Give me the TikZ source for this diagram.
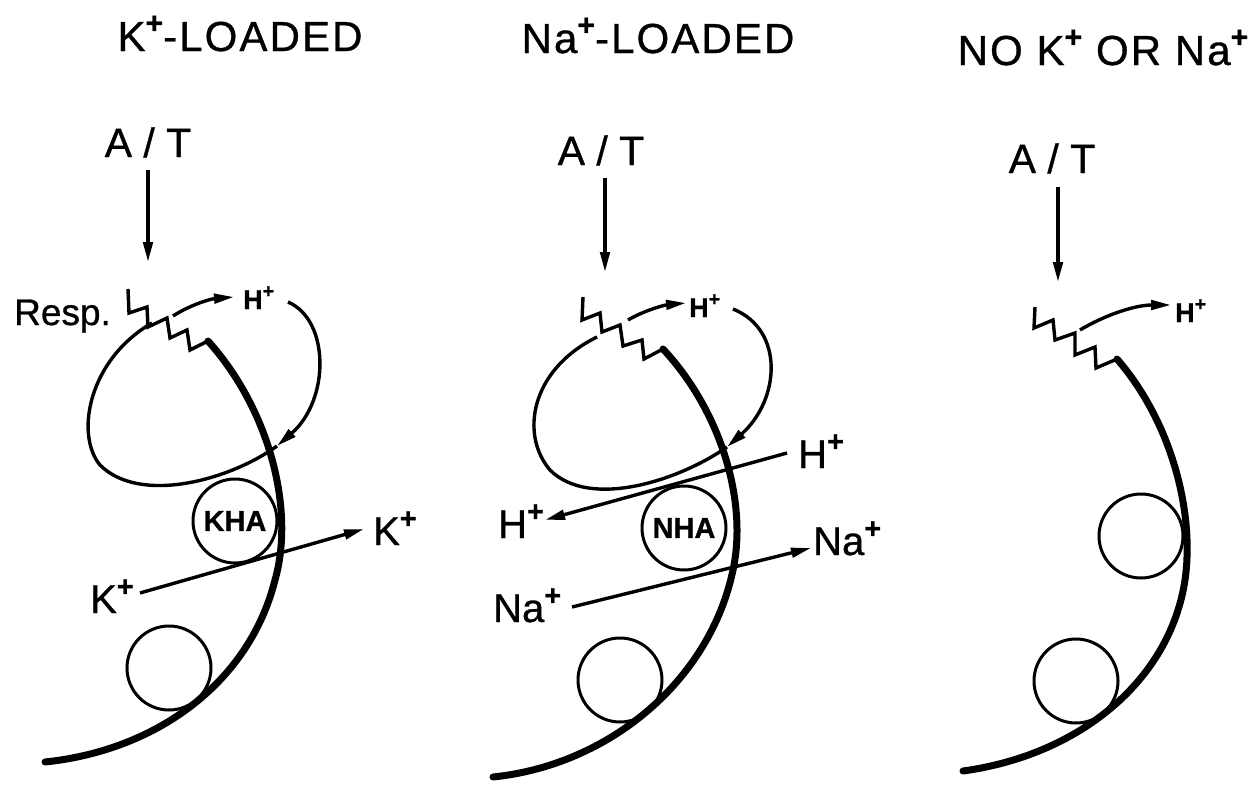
\documentclass[tikz,border=0pt]{standalone}
\usepackage{fontspec}
\setmainfont{Liberation Sans}[FakeBold=0.8]
\newfontfamily\lettering{Liberation Sans}[LetterSpace=5,FakeBold=0.8]
\usetikzlibrary{arrows.meta}
\newcommand\pl{\raisebox{0.42em}{\scalebox{0.72}{\bfseries +}}}
\tikzset{
  ttl/.style={font=\lettering\fontsize{42}{50}\selectfont, anchor=base, inner sep=0pt},
  atl/.style={font=\fontsize{41}{48}\selectfont, anchor=base, inner sep=0pt},
  ion/.style={font=\fontsize{40}{48}\selectfont, anchor=base west, inner sep=0pt},
  hsm/.style={font=\bfseries\fontsize{27}{30}\selectfont, anchor=base west, inner sep=0pt},
  resp/.style={font=\fontsize{37}{42}\selectfont, anchor=base west, inner sep=0pt},
  memb/.style={line width=7pt, line cap=round, line join=round},
  thn/.style={line width=3.4pt},
  zz/.style={line width=3.4pt, line join=miter},
  tip/.style={-{Triangle[length=20pt,width=9.5pt]}},
  pore/.style={circle, draw, line width=3pt, minimum size=84pt, inner sep=0pt,
               font=\bfseries\fontsize{29}{32}\selectfont},
}
\begin{document}
\begin{tikzpicture}[x=1pt, y=-1pt]
\useasboundingbox (0,0) rectangle (1259,787);

% ================= Panel 1 : K+-loaded =================
\node[ttl] (t1) at (240,51) {K\pl-LOADED};
\node[atl] (at1) at (148,157) {A / T};
\coordinate (a1s) at (148,170);
\coordinate (a1e) at (148,262);
\draw[thn,tip] (a1s) -- (a1e);
\node[resp] (resp) at (14,325) {Resp.};
% zigzag + membrane
\draw[zz] (128,289) -- (129,313) -- (147,307) -- (148,327) -- (167,318) -- (170,338)
          -- (187,330) -- (190,350) -- (208,341);
\coordinate (m1top) at (208,341);
\draw[memb] (m1top) .. controls (270,410) and (295,510) .. (275,580)
            .. controls (250,680) and (160,750) .. (45,762);
% H+ out
\node[hsm] (h1) at (243,309) {H\pl};
\coordinate (h1s) at (173,316);
\coordinate (h1e) at (234,297);
\draw[thn,tip] (h1s) .. controls (190,305) and (210,299) .. (h1e);
% H+ back in
\coordinate (h1r) at (288,302);
\coordinate (h1in) at (277,446);
\draw[thn,tip] (h1r) .. controls (330,320) and (330,400) .. (h1in);
% loop
\draw[thn] (h1in) .. controls (230,480) and (140,505) .. (100,465)
           .. controls (75,435) and (88,360) .. (152,323);
% KHA
\node[pore] (kha) at (235,521) {KHA};
\node[ion] (k1l) at (90,613) {K\pl};
\node[ion] (k1r) at (373,545) {K\pl};
\coordinate (k1s) at (140,593);
\coordinate (k1e) at (364,529);
\draw[thn,tip] (k1s) -- (k1e);
\node[pore] (c1) at (169,668) {};

% ================= Panel 2 : Na+-loaded =================
\node[ttl] (t2) at (658,53) {Na\pl-LOADED};
\node[atl] (at2) at (601,165) {A / T};
\coordinate (a2s) at (605,178);
\coordinate (a2e) at (605,272);
\draw[thn,tip] (a2s) -- (a2e);
\draw[zz] (583,297) -- (582,320) -- (600,313) -- (602,332) -- (620,325) -- (623,346)
          -- (642,340) -- (644,359) -- (663,349);
\coordinate (m2top) at (663,349);
\draw[memb] (m2top) .. controls (720,410) and (748,500) .. (733,570)
            .. controls (710,680) and (610,765) .. (493,777);
\node[hsm] (h2) at (689,317) {H\pl};
\coordinate (h2s) at (628,320);
\coordinate (h2e) at (686,303);
\draw[thn,tip] (h2s) .. controls (645,310) and (665,305) .. (h2e);
\coordinate (h2r) at (733,309);
\coordinate (h2in) at (727,447);
\draw[thn,tip] (h2r) .. controls (785,330) and (780,400) .. (h2in);
\draw[thn] (h2in) .. controls (680,480) and (590,510) .. (550,470)
           .. controls (520,435) and (530,370) .. (597,337);
\node[pore] (nha) at (684,528) {NHA};
% H+ exchange
\node[ion] (h2rl) at (798,468) {H\pl};
\node[ion] (h2ll) at (498,538) {H\pl};
\coordinate (hx1) at (787,453);
\coordinate (hx2) at (545,520);
\draw[thn,tip] (hx1) -- (hx2);
% Na+ exchange
\node[ion] (na2l) at (493,622) {Na\pl};
\node[ion] (na2r) at (813,555) {Na\pl};
\coordinate (nx1) at (572,607);
\coordinate (nx2) at (811,548);
\draw[thn,tip] (nx1) -- (nx2);
\node[pore] (c2) at (620,680) {};

% ================= Panel 3 : no K+ or Na+ =================
\node[ttl] (t3) at (1103,65) {NO K\pl{} OR Na\pl};
\node[atl] (at3) at (1052,173) {A / T};
\coordinate (a3s) at (1058,187);
\coordinate (a3e) at (1058,282);
\draw[thn,tip] (a3s) -- (a3e);
\draw[zz] (1035,307) -- (1034,328) -- (1053,320) -- (1055,340) -- (1075,333) -- (1075,355)
          -- (1095,347) -- (1096,368) -- (1117,359);
\coordinate (m3top) at (1117,359);
\draw[memb] (m3top) .. controls (1170,420) and (1195,510) .. (1185,580)
            .. controls (1170,680) and (1080,755) .. (963,771);
\node[hsm] (h3) at (1175,322) {H\pl};
\coordinate (h3s) at (1080,330);
\coordinate (h3e) at (1171,305);
\draw[thn,tip] (h3s) .. controls (1105,315) and (1135,305) .. (h3e);
\node[pore] (c3a) at (1141,536) {};
\node[pore] (c3b) at (1076,681) {};
\end{tikzpicture}
\end{document}
